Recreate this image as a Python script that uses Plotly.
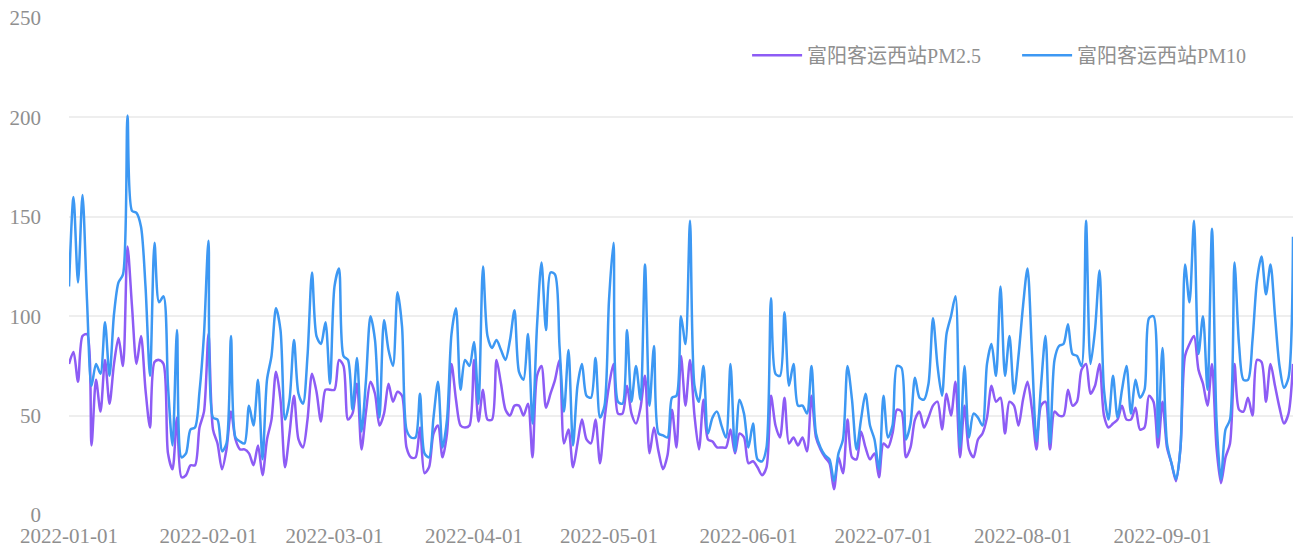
import pandas as pd
import plotly.graph_objects as go

start_date = "2022-01-01"
end_date = "2022-09-30"
series_names = ["富阳客运西站PM2.5", "富阳客运西站PM10"]
y_ticks = [0, 50, 100, 150, 200, 250]

pm10 = [
    115, 160, 117, 161, 108, 65, 76, 71, 97, 70,
    101, 117, 121, 201, 153, 152, 145, 115, 70, 137,
    107, 110, 65, 35, 93, 29, 31, 43, 44, 62,
    91, 138, 49, 48, 32, 36, 90, 39, 37, 36,
    55, 45, 68, 28, 68, 80, 104, 93, 48, 58,
    88, 61, 56, 80, 122, 90, 86, 97, 66, 115,
    124, 80, 78, 53, 79, 42, 68, 100, 88, 49,
    98, 83, 75, 112, 95, 43, 39, 39, 61, 31,
    29, 49, 67, 34, 48, 91, 104, 63, 78, 75,
    87, 56, 125, 90, 84, 88, 83, 78, 88, 103,
    72, 68, 91, 46, 95, 127, 93, 122, 121, 85,
    52, 83, 35, 65, 76, 60, 59, 79, 49, 55,
    108, 137, 57, 56, 93, 57, 75, 58, 126, 55,
    85, 41, 40, 39, 59, 60, 100, 86, 148, 65,
    57, 75, 41, 49, 52, 45, 39, 76, 32, 58,
    51, 34, 46, 28, 27, 34, 109, 71, 70, 102,
    65, 76, 55, 55, 51, 75, 41, 34, 30, 28,
    17, 31, 38, 75, 58, 33, 48, 61, 45, 38,
    23, 60, 39, 45, 75, 74, 38, 46, 69, 59,
    58, 66, 99, 75, 60, 91, 100, 110, 34, 75,
    39, 51, 49, 45, 76, 86, 70, 115, 70, 90,
    61, 80, 105, 124, 81, 37, 65, 90, 36, 78,
    85, 86, 96, 81, 80, 75, 148, 76, 93, 123,
    63, 48, 70, 49, 63, 75, 51, 68, 59, 63,
    99, 100, 39, 84, 36, 26, 18, 34, 126, 107,
    148, 81, 100, 63, 144, 48, 18, 43, 48, 127,
    86, 68, 68, 88, 118, 130, 111, 126, 100, 75,
    64, 69, 140,
]

pm25 = [
    76, 82, 67, 90, 91, 35, 68, 52, 78, 56,
    76, 89, 75, 135, 105, 76, 90, 63, 44, 77,
    78, 76, 31, 23, 49, 19, 20, 25, 25, 44,
    52, 91, 43, 36, 23, 33, 52, 38, 33, 33,
    31, 25, 35, 20, 38, 48, 72, 58, 24, 41,
    60, 38, 34, 48, 71, 62, 47, 63, 63, 63,
    78, 75, 48, 51, 66, 33, 52, 67, 61, 45,
    51, 66, 57, 62, 60, 34, 29, 29, 44, 21,
    24, 41, 45, 29, 41, 76, 58, 45, 44, 45,
    78, 47, 63, 48, 48, 78, 66, 53, 50, 55,
    55, 50, 56, 29, 70, 75, 54, 61, 68, 78,
    36, 43, 24, 36, 48, 38, 36, 48, 26, 48,
    65, 76, 51, 51, 65, 51, 46, 54, 70, 31,
    44, 32, 23, 30, 53, 34, 80, 55, 78, 50,
    33, 58, 38, 37, 34, 34, 34, 43, 31, 41,
    39, 26, 27, 24, 20, 24, 60, 45, 39, 59,
    36, 39, 35, 39, 32, 60, 39, 33, 29, 26,
    13, 29, 21, 48, 29, 28, 42, 34, 28, 31,
    19, 36, 34, 41, 53, 52, 29, 34, 48, 52,
    44, 49, 55, 57, 43, 61, 50, 67, 29, 55,
    33, 29, 38, 41, 49, 65, 57, 59, 41, 57,
    55, 45, 58, 67, 53, 33, 55, 57, 33, 52,
    50, 50, 63, 55, 57, 73, 76, 61, 65, 76,
    50, 44, 46, 48, 55, 48, 48, 54, 43, 44,
    60, 57, 34, 57, 34, 26, 17, 34, 80, 86,
    90, 73, 66, 55, 76, 34, 16, 29, 36, 76,
    53, 52, 59, 50, 78, 77, 57, 76, 65, 54,
    46, 51, 76,
]

dates = pd.date_range(start_date, end_date, freq="D")
n = min(len(dates), len(pm10), len(pm25))
dates = dates[:n]

FONT = "Liberation Serif, Noto Sans CJK SC, serif"
TXT = "#8f8f8f"

fig = go.Figure()
fig.add_trace(go.Scatter(
    x=dates, y=pm25[:n], name=series_names[0], mode="lines",
    line=dict(color="#8d5cf5", width=2.5, shape="spline", smoothing=0.8),
    cliponaxis=False,
))
fig.add_trace(go.Scatter(
    x=dates, y=pm10[:n], name=series_names[1], mode="lines",
    line=dict(color="#3d98f3", width=2.5, shape="spline", smoothing=0.8),
    cliponaxis=False,
))

fig.update_layout(
    width=1298, height=550,
    margin=dict(l=69, r=5, t=18, b=35, autoexpand=False),
    paper_bgcolor="white", plot_bgcolor="white",
    font=dict(family=FONT, size=21, color=TXT),
    showlegend=True,
    legend=dict(
        orientation="h", x=0.554, xanchor="left", y=0.925, yanchor="middle",
        font=dict(family=FONT, size=20, color=TXT),
        bgcolor="rgba(0,0,0,0)", itemwidth=50, entrywidth=205,
    ),
    xaxis=dict(
        type="date",
        range=[dates[0], dates[-1]],
        tickformat="%Y-%m-%d",
        dtick="M1",
        tick0=start_date,
        showgrid=False,
        zeroline=False,
        showline=False,
        ticks="",
        automargin=False,
        ticklabelstandoff=6,
        tickfont=dict(family=FONT, size=21, color=TXT),
    ),
    yaxis=dict(
        range=[0, 250],
        tickvals=y_ticks,
        showgrid=True, gridcolor="#eeeeee", gridwidth=1.5,
        zeroline=False, showline=False, ticks="",
        automargin=False,
        ticklabelstandoff=27,
        tickfont=dict(family=FONT, size=21, color=TXT),
    ),
)

fig.write_html(
    "out.html",
    config={"displayModeBar": False},
    post_script="document.body.style.margin='0';document.body.style.padding='0';",
)
